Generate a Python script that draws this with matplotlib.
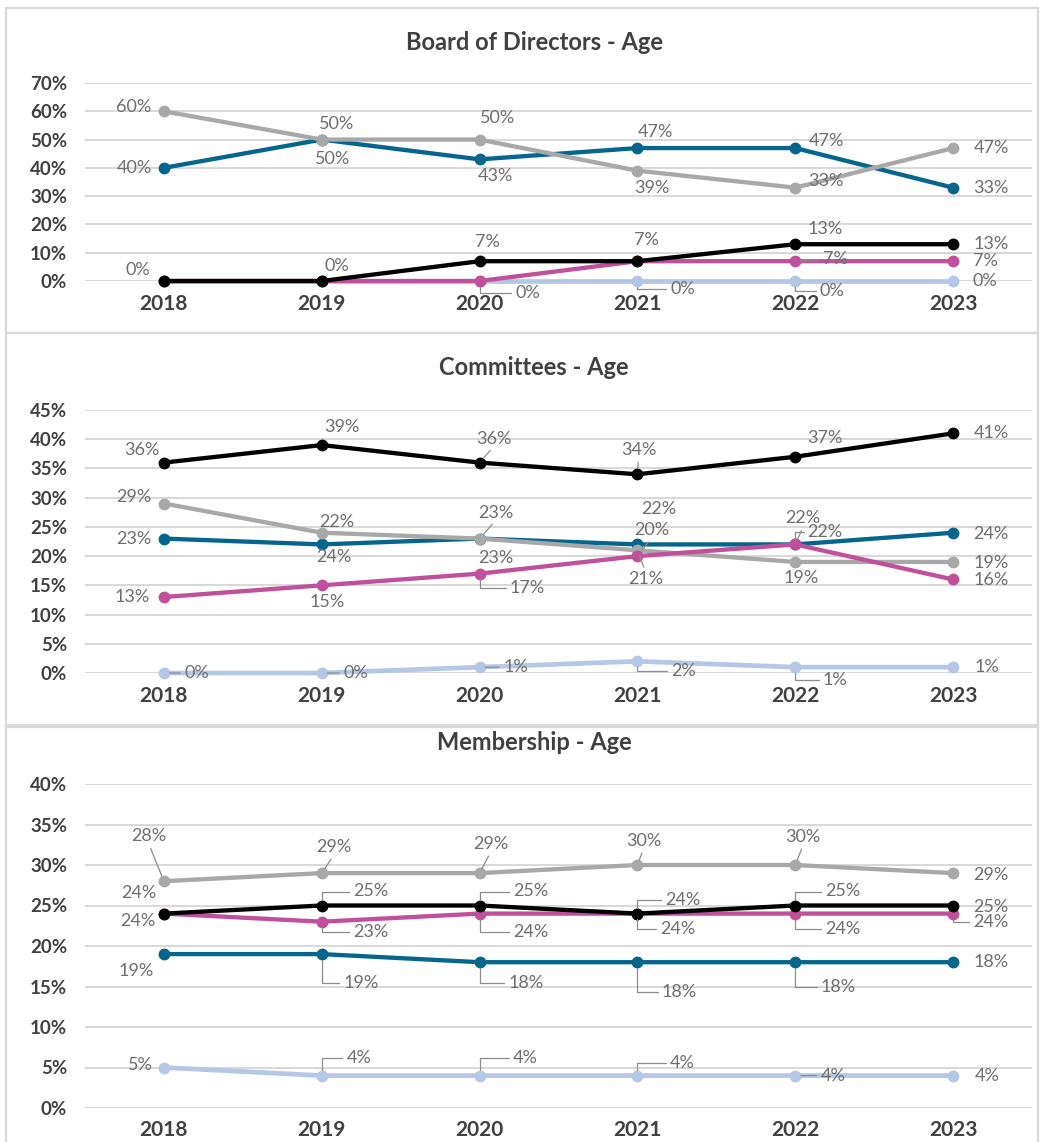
import matplotlib
matplotlib.use("Agg")
import matplotlib.pyplot as plt
from matplotlib.patches import Rectangle
from matplotlib.ticker import FuncFormatter

plt.rcParams['font.family'] = ['Lato', 'DejaVu Sans']

years = [2018, 2019, 2020, 2021, 2022, 2023]

# Board of Directors - Age (%)
board_blue = [40, 50, 43, 47, 47, 33]
board_gray = [60, 50, 50, 39, 33, 47]
board_black = [0, 0, 7, 7, 13, 13]
board_pink = [0, 0, 0, 7, 7, 7]
board_light = [0, 0, 0, 0, 0, 0]

# Committees - Age (%)
comm_blue = [23, 22, 23, 22, 22, 24]
comm_gray = [29, 24, 23, 21, 19, 19]
comm_black = [36, 39, 36, 34, 37, 41]
comm_pink = [13, 15, 17, 20, 22, 16]
comm_light = [0, 0, 1, 2, 1, 1]

# Membership - Age (%)
memb_blue = [19, 19, 18, 18, 18, 18]
memb_gray = [28, 29, 29, 30, 30, 29]
memb_black = [24, 25, 25, 24, 25, 25]
memb_pink = [24, 23, 24, 24, 24, 24]
memb_light = [5, 4, 4, 4, 4, 4]

colors = {'light': '#B4C7E7', 'blue': '#04668C', 'gray': '#A8A8A8',
          'pink': '#C0509B', 'black': '#000000'}
order = ['light', 'blue', 'gray', 'pink', 'black']

# label placement: (dx px, dy px up, leader line) or None
board_labels = {
    'blue': [(-30, 0, 0), (11, -19, 0), (16, -17, 0), (18, 16, 0), (31, 7, 0), (38, 0, 0)],
    'gray': [(-30, 4, 0), (15, 16, 0), (18, 22, 0), (14, -17, 0), (31, 7, 0), (38, 0, 0)],
    'black': [(-26, 11, 0), (15, 15, 0), (8, 19, 0), (9, 21, 0), (30, 15, 0), (38, 0, 0)],
    'pink': [None, None, (48, -12, 1), None, (40, 2, 1), (32, 0, 0)],
    'light': [None, None, None, (45, -8, 1), (37, -10, 1), (32, 0, 0)],
}
comm_labels = {
    'black': [(-22, 13, 0), (20, 18, 0), (14, 24, 1), (1, 24, 1), (30, 19, 0), (38, 0, 0)],
    'gray': [(-30, 7, 0), (12, -24, 0), (16, 26, 1), (8, -29, 1), (6, -16, 0), (38, -1, 0)],
    'blue': [(-30, 0, 0), (15, 22, 0), (16, -19, 0), (21, 35, 0), (8, 26, 1), (38, -1, 0)],
    'pink': [(-32, 0, 0), (5, -17, 0), (48, -14, 1), (14, 26, 1), (30, 12, 1), (38, -1, 0)],
    'light': [(33, 0, 1), (34, 0, 1), (36, 0, 1), (46, -10, 1), (40, -13, 1), (34, 0, 0)],
}
memb_labels = {
    'gray': [(-15, 45, 1), (12, 26, 1), (11, 29, 1), (6, 24, 1), (8, 28, 1), (38, -2, 0)],
    'black': [(-25, 21, 0), (49, 14, 1), (51, 14, 1), (45, 14, 1), (48, 14, 1), (38, -2, 0)],
    'pink': [(-26, -7, 0), (49, -10, 1), (51, -18, 1), (40, -15, 1), (48, -15, 1), (38, -8, 1)],
    'blue': [(-28, -17, 0), (39, -29, 1), (46, -21, 1), (42, -30, 1), (43, -25, 1), (38, 0, 0)],
    'light': [(-23, 2, 0), (37, 18, 1), (46, 18, 1), (45, 13, 1), (38, 0, 1), (34, 0, 0)],
}

panels = [
    ("Board of Directors - Age",
     {'light': board_light, 'blue': board_blue, 'gray': board_gray,
      'pink': board_pink, 'black': board_black},
     board_labels, 70, 10, (83, 281), 43, (8, 333)),
    ("Committees - Age",
     {'light': comm_light, 'blue': comm_blue, 'gray': comm_gray,
      'pink': comm_pink, 'black': comm_black},
     comm_labels, 45, 5, (410, 673), 368, (333, 727)),
    ("Membership - Age",
     {'light': memb_light, 'blue': memb_blue, 'gray': memb_gray,
      'pink': memb_pink, 'black': memb_black},
     memb_labels, 40, 5, (784, 1108), 743, (725, 1150)),
]

W, H = 1045, 1142
fig = plt.figure(figsize=(W / 100, H / 100), dpi=100)
fig.patch.set_facecolor('white')

left_px, right_px = 85, 1032
txt_col = '#6E6E6E'

for title, series, labels, ymax, ystep, (ytop, ybot), title_y, (btop, bbot) in panels:
    # panel frame
    fig.add_artist(Rectangle((6 / W, 1 - bbot / H), (1038 - 6) / W, (bbot - btop) / H,
                             transform=fig.transFigure, fill=False,
                             ec='#D9D9D9', lw=1.6, zorder=0))
    fig.text(534 / W, 1 - title_y / H, title, ha='center', va='center',
             fontsize=17, fontweight='bold', color='#404040')

    ax = fig.add_axes([left_px / W, 1 - ybot / H, (right_px - left_px) / W, (ybot - ytop) / H])
    ax.set_xlim(2017.5, 2023.5)
    ax.set_ylim(0, ymax)
    ax.set_yticks(range(0, ymax + 1, ystep))
    ax.yaxis.set_major_formatter(FuncFormatter(lambda v, p: f"{v:.0f}%"))
    ax.set_xticks(years)
    ax.grid(axis='y', color='#D6D6D6', lw=1.3)
    ax.set_axisbelow(True)
    for s in ax.spines.values():
        s.set_visible(False)
    ax.tick_params(axis='y', length=0, pad=13, labelsize=13.5, labelcolor='#404040')
    ax.tick_params(axis='x', length=0, pad=9, labelsize=15, labelcolor='#404040')
    for lbl in ax.get_xticklabels() + ax.get_yticklabels():
        lbl.set_fontweight('bold')

    for z, key in enumerate(order):
        vals = series[key]
        ax.plot(years, vals, color=colors[key], lw=3.4 if key == 'light' else 3.1,
                marker='o', ms=7.5, zorder=3 + z, clip_on=False, solid_capstyle='round')
        for x, v, lab in zip(years, vals, labels[key]):
            if lab is None:
                continue
            dx, dy, leader = lab
            kw = {}
            if leader:
                if abs(dy) > 12 and abs(dx) < 25:
                    rel = (0.5, 0.0 if dy > 0 else 1.0)
                    cs = 'arc3'
                else:
                    rel = (0.0, 0.5) if dx > 0 else (1.0, 0.5)
                    cs = 'angle,angleA=0,angleB=90,rad=0' if abs(dy) > 4 else 'arc3'
                kw['arrowprops'] = dict(arrowstyle='-', color='#8C8C8C', lw=0.9,
                                        shrinkA=1, shrinkB=4, relpos=rel,
                                        connectionstyle=cs)
            ax.annotate(f"{v}%", xy=(x, v), xytext=(dx, dy), textcoords='offset pixels',
                        ha='center', va='center', fontsize=13, color=txt_col,
                        zorder=20, annotation_clip=False, **kw)

fig.savefig('out.png', dpi=100, facecolor='white')
